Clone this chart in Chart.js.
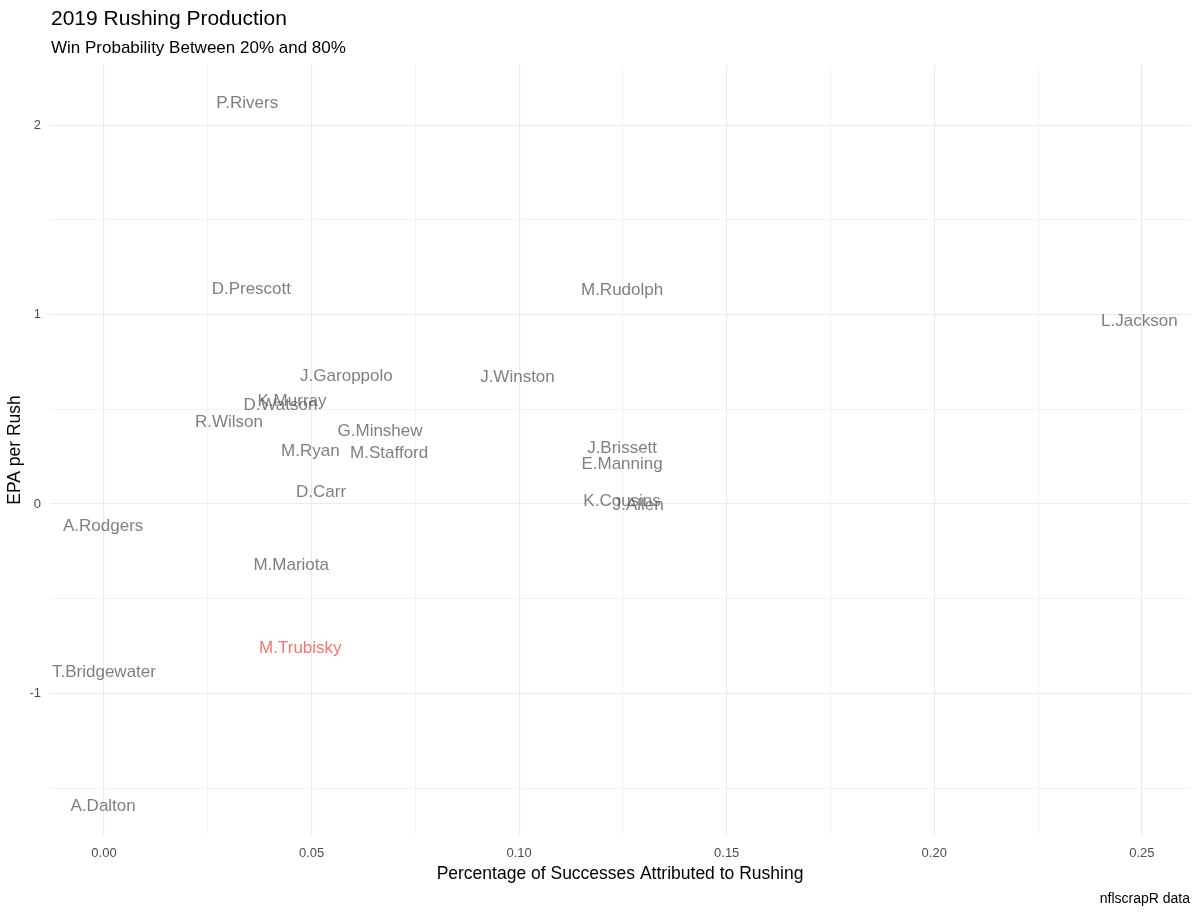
<!DOCTYPE html>
<html>
<head>
<meta charset="utf-8">
<script src="https://cdn.jsdelivr.net/npm/chart.js@4"></script>
<style>
  html, body { margin: 0; padding: 0; background: #fff; }
  #wrap { width: 1200px; height: 914px; }
</style>
</head>
<body>
<div id="wrap"><canvas id="rush-chart"></canvas></div>
<script>
// quarterbacks and their values
var players = ['P.Rivers', 'D.Prescott', 'M.Rudolph', 'L.Jackson', 'J.Garoppolo', 'J.Winston',
    'K.Murray', 'D.Watson', 'R.Wilson', 'G.Minshew', 'M.Ryan', 'M.Stafford', 'J.Brissett',
    'E.Manning', 'D.Carr', 'K.Cousins', 'J.Allen', 'A.Rodgers', 'M.Mariota', 'M.Trubisky',
    'T.Bridgewater', 'A.Dalton'];
var rushShare = [0.0345, 0.0355, 0.1248, 0.2494, 0.0584, 0.0996,
    0.0453, 0.0425, 0.0301, 0.0665, 0.0497, 0.0687, 0.1248,
    0.1248, 0.0523, 0.1248, 0.1287, -0.0002, 0.0451, 0.0473,
    0.0000, -0.0002];
var epaRush = [2.127, 1.143, 1.138, 0.974, 0.683, 0.677,
    0.550, 0.529, 0.444, 0.392, 0.291, 0.280, 0.302,
    0.222, 0.074, 0.026, 0.005, -0.106, -0.312, -0.751,
    -0.878, -1.587];
var highlight = 'M.Trubisky';

var xTicks = [0, 0.025, 0.05, 0.075, 0.1, 0.125, 0.15, 0.175, 0.2, 0.225, 0.25];
var yTicks = [-1.5, -1, -0.5, 0, 0.5, 1, 1.5, 2];

var points = players.map(function (p, i) {
    return { x: rushShare[i], y: epaRush[i], name: p };
});

var FONT = '"Liberation Sans", Arial, sans-serif';

// draws each name at its data position
var textLabels = {
    id: 'textLabels',
    afterDatasetsDraw: function (chart) {
        var ctx = chart.ctx;
        var xs = chart.scales.x, ys = chart.scales.y;
        ctx.save();
        ctx.font = '17px ' + FONT;
        ctx.textAlign = 'center';
        ctx.textBaseline = 'middle';
        points.forEach(function (pt) {
            ctx.fillStyle = pt.name === highlight ? '#f8766d' : 'rgba(77,77,77,0.72)';
            // +2: ggplot centres on the glyph box a little lower than canvas 'middle'
            ctx.fillText(pt.name, xs.getPixelForValue(pt.x), ys.getPixelForValue(pt.y) + 2);
        });
        ctx.restore();
    }
};

// title, subtitle and caption like ggplot
var headings = {
    id: 'headings',
    afterDraw: function (chart) {
        var ctx = chart.ctx;
        ctx.save();
        ctx.fillStyle = '#000';
        ctx.textBaseline = 'middle';
        ctx.textAlign = 'left';
        ctx.font = '21px ' + FONT;
        ctx.fillText('2019 Rushing Production', 51, 19);
        ctx.font = '17px ' + FONT;
        ctx.fillText('Win Probability Between 20% and 80%', 51, 48);
        ctx.textAlign = 'right';
        ctx.font = '14px ' + FONT;
        ctx.fillText('nflscrapR data', 1190, 899);
        ctx.restore();
    }
};

function isMult(v, step) {
    return Math.abs(v / step - Math.round(v / step)) < 1e-6;
}

var ctx = document.getElementById('rush-chart').getContext('2d');
var rushChart = new Chart(ctx, {
    type: 'scatter',
    data: {
        datasets: [{
            data: points,
            pointRadius: 0,
            pointHoverRadius: 0
        }]
    },
    options: {
        responsive: true,
        maintainAspectRatio: false,
        animation: false,
        events: [],
        layout: { padding: { top: 65, right: 10, left: 0, bottom: 0 } },
        plugins: {
            legend: { display: false },
            tooltip: { enabled: false }
        },
        scales: {
            x: {
                type: 'linear',
                min: -0.013,
                max: 0.2616,
                afterBuildTicks: function (scale) {
                    scale.ticks = xTicks.map(function (v) { return { value: v }; });
                },
                afterFit: function (scale) { scale.height = 79; },
                grid: {
                    color: '#ebebeb',
                    lineWidth: function (c) {
                        return c.tick && isMult(c.tick.value, 0.05) ? 1.1 : 0.6;
                    },
                    drawTicks: false
                },
                border: { display: false },
                ticks: {
                    padding: 11,
                    color: '#4d4d4d',
                    font: { size: 13, family: FONT },
                    maxRotation: 0,
                    autoSkip: false,
                    callback: function (v) {
                        return isMult(v, 0.05) ? v.toFixed(2) : '';
                    }
                },
                title: {
                    display: true,
                    text: 'Percentage of Successes Attributed to Rushing',
                    color: '#000',
                    font: { size: 17.5, family: FONT },
                    padding: { top: 0, bottom: 29.5 }
                }
            },
            y: {
                type: 'linear',
                min: -1.747,
                max: 2.317,
                afterBuildTicks: function (scale) {
                    scale.ticks = yTicks.map(function (v) { return { value: v }; });
                },
                afterFit: function (scale) { scale.width = 50; },
                grid: {
                    color: '#ebebeb',
                    lineWidth: function (c) {
                        return c.tick && isMult(c.tick.value, 1) ? 1.1 : 0.6;
                    },
                    drawTicks: false
                },
                border: { display: false },
                ticks: {
                    padding: 9,
                    color: '#4d4d4d',
                    font: { size: 13, family: FONT },
                    autoSkip: false,
                    callback: function (v) {
                        return isMult(v, 1) ? String(v) : '';
                    }
                },
                title: {
                    display: true,
                    text: 'EPA per Rush',
                    color: '#000',
                    font: { size: 17.5, family: FONT },
                    padding: { top: 5, bottom: 0 }
                }
            }
        }
    },
    plugins: [textLabels, headings]
});
</script>
</body>
</html>
